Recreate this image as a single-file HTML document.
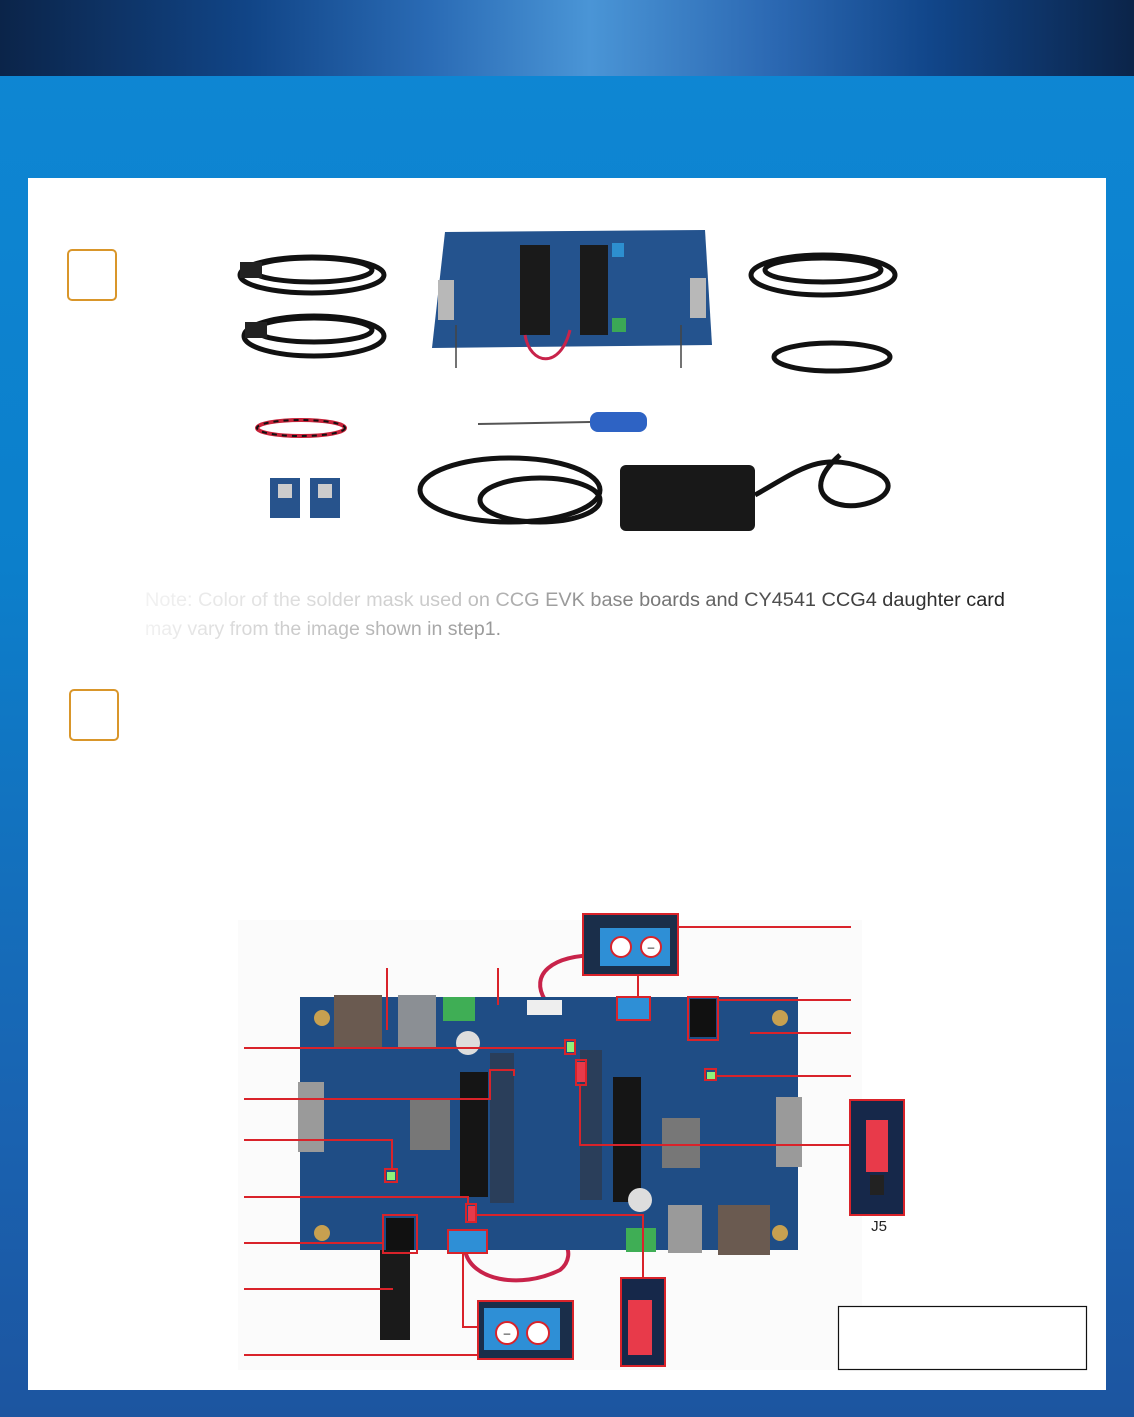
<!DOCTYPE html>
<html><head><meta charset="utf-8"><style>
html,body{margin:0;padding:0}
body{width:1134px;height:1417px;overflow:hidden;position:relative;background:linear-gradient(#0e87d4 0%,#0c7fcb 40%,#1a62b0 80%,#1c55a0 100%);font-family:"Liberation Sans",sans-serif}
#top{position:absolute;left:0;top:0;width:1134px;height:76px;background:linear-gradient(90deg,#0b2449 0%,#114587 22%,#2a6bb5 38%,#4a95d6 52%,#2c69b3 68%,#11468a 82%,#0b2449 100%)}
#panel{position:absolute;left:28px;top:178px;width:1078px;height:1212px;background:#fff}
svg{position:absolute;left:0;top:0}
</style></head><body>
<div id="top"></div>
<div id="panel"></div>
<svg width="1134" height="1417" viewBox="0 0 1134 1417">
<defs>
<linearGradient id="tg" x1="145" x2="1005" y1="0" y2="0" gradientUnits="userSpaceOnUse">
<stop offset="0" stop-color="#f2f2f2"/><stop offset="0.35" stop-color="#c8c8c8"/><stop offset="0.7" stop-color="#555"/><stop offset="1" stop-color="#222"/></linearGradient>
<linearGradient id="tg2" x1="145" x2="1005" y1="0" y2="0" gradientUnits="userSpaceOnUse">
<stop offset="0" stop-color="#f2f2f2"/><stop offset="0.4" stop-color="#999"/><stop offset="1" stop-color="#222"/></linearGradient>
</defs>
<!-- step boxes -->
<rect x="68" y="250" width="48" height="50" rx="4" fill="none" stroke="#d9962a" stroke-width="2"/>
<rect x="70" y="690" width="48" height="50" rx="4" fill="none" stroke="#d9962a" stroke-width="2"/>
<!-- kit items top -->
<g fill="none" stroke="#111" stroke-width="5">
<ellipse cx="312" cy="275" rx="72" ry="18"/><ellipse cx="312" cy="270" rx="60" ry="12"/>
<ellipse cx="314" cy="336" rx="70" ry="20"/><ellipse cx="314" cy="330" rx="58" ry="12"/>
<ellipse cx="823" cy="275" rx="72" ry="20"/><ellipse cx="823" cy="270" rx="58" ry="12"/>
<ellipse cx="832" cy="357" rx="58" ry="14"/>
<ellipse cx="510" cy="490" rx="90" ry="32"/><ellipse cx="540" cy="500" rx="60" ry="22"/>
<path d="M755 495 C800 470 820 450 870 470 C900 480 890 500 860 505 C830 510 800 490 840 455"/>
</g>
<rect x="240" y="262" width="22" height="16" fill="#222"/><rect x="245" y="322" width="22" height="16" fill="#222"/>
<!-- top board -->
<polygon points="445,232 705,230 712,345 432,348" fill="#24538e"/>
<rect x="520" y="245" width="30" height="90" fill="#1a1a1a"/><rect x="580" y="245" width="28" height="90" fill="#1a1a1a"/>
<rect x="438" y="280" width="16" height="40" fill="#b8b8b8"/><rect x="690" y="278" width="16" height="40" fill="#b8b8b8"/>
<rect x="612" y="318" width="14" height="14" fill="#3ba856"/><rect x="612" y="243" width="12" height="14" fill="#2d8fd0"/>
<path d="M525 335 C530 365 560 370 570 330" fill="none" stroke="#c8234a" stroke-width="3"/>
<line x1="456" y1="325" x2="456" y2="368" stroke="#444" stroke-width="1.5"/>
<line x1="681" y1="325" x2="681" y2="368" stroke="#444" stroke-width="1.5"/>
<!-- red/black wire -->
<ellipse cx="301" cy="428" rx="44" ry="8" fill="none" stroke="#c8233a" stroke-width="4"/>
<ellipse cx="301" cy="428" rx="44" ry="8" fill="none" stroke="#111" stroke-width="2" stroke-dasharray="5 5"/>
<!-- screwdriver -->
<line x1="478" y1="424" x2="590" y2="422" stroke="#555" stroke-width="2"/>
<rect x="590" y="412" width="57" height="20" rx="8" fill="#2e63c4"/>
<!-- daughter cards -->
<rect x="270" y="478" width="30" height="40" fill="#27538c"/><rect x="310" y="478" width="30" height="40" fill="#27538c"/>
<rect x="278" y="484" width="14" height="14" fill="#ccc"/><rect x="318" y="484" width="14" height="14" fill="#ccc"/>
<!-- adapter -->
<rect x="620" y="465" width="135" height="66" rx="6" fill="#181818"/>
<!-- note -->
<text x="145" y="606" font-size="19" fill="url(#tg)" textLength="860" lengthAdjust="spacingAndGlyphs">Note: Color of the solder mask used on CCG EVK base boards and CY4541 CCG4 daughter card</text>
<text x="145" y="635" font-size="19" fill="url(#tg2)" textLength="356" lengthAdjust="spacingAndGlyphs">may vary from the image shown in step1.</text>
<!-- bottom photo -->
<rect x="238" y="920" width="624" height="450" fill="#fbfbfb"/>
<path d="M545 1000 C530 975 550 955 600 955" fill="none" stroke="#c8234a" stroke-width="4"/>
<path d="M465 1250 C470 1280 520 1290 560 1270 C570 1262 570 1250 565 1245" fill="none" stroke="#c8234a" stroke-width="4"/>
<rect x="300" y="997" width="498" height="253" fill="#1f4d85"/>
<g fill="#c7a050"><circle cx="322" cy="1018" r="8"/><circle cx="780" cy="1018" r="8"/><circle cx="322" cy="1233" r="8"/><circle cx="780" cy="1233" r="8"/></g>
<rect x="334" y="995" width="48" height="52" fill="#6a5a50"/><rect x="398" y="995" width="38" height="52" fill="#8b8f94"/>
<rect x="443" y="997" width="32" height="24" fill="#3fae55"/>
<rect x="298" y="1082" width="26" height="70" fill="#9a9a9a"/><rect x="776" y="1097" width="26" height="70" fill="#9a9a9a"/>
<rect x="460" y="1072" width="28" height="125" fill="#151515"/><rect x="613" y="1077" width="28" height="125" fill="#151515"/>
<rect x="490" y="1053" width="24" height="150" fill="#2a3e5a"/><rect x="580" y="1050" width="22" height="150" fill="#2a3e5a"/>
<rect x="410" y="1100" width="40" height="50" fill="#777"/><rect x="662" y="1118" width="38" height="50" fill="#777"/>
<rect x="668" y="1205" width="34" height="48" fill="#9a9a9a"/><rect x="718" y="1205" width="52" height="50" fill="#6a5a50"/>
<rect x="527" y="1000" width="35" height="15" fill="#eee"/>
<rect x="626" y="1228" width="30" height="24" fill="#3fae55"/>
<rect x="380" y="1250" width="30" height="90" fill="#1a1a1a"/>
<rect x="386" y="1218" width="28" height="32" fill="#111"/><rect x="690" y="999" width="26" height="38" fill="#111"/>
<circle cx="468" cy="1043" r="12" fill="#ddd"/><circle cx="640" cy="1200" r="12" fill="#ddd"/>
<!-- insets -->
<rect x="583" y="914" width="95" height="61" fill="#1a2e4a"/>
<rect x="600" y="928" width="70" height="38" fill="#2e8fd6"/>
<circle cx="621" cy="947" r="10" fill="#fff" stroke="#d9232a" stroke-width="2"/><circle cx="651" cy="947" r="10" fill="#fff" stroke="#d9232a" stroke-width="2"/>
<text x="651" y="951" font-size="12" text-anchor="middle" fill="#111">–</text>
<rect x="478" y="1301" width="95" height="58" fill="#1a2e4a"/>
<rect x="484" y="1308" width="76" height="42" fill="#2e8fd6"/>
<circle cx="507" cy="1333" r="11" fill="#fff" stroke="#d9232a" stroke-width="2"/><circle cx="538" cy="1333" r="11" fill="#fff" stroke="#d9232a" stroke-width="2"/>
<text x="507" y="1337" font-size="12" text-anchor="middle" fill="#111">–</text>
<rect x="621" y="1278" width="44" height="88" fill="#16284a"/><rect x="628" y="1300" width="24" height="55" fill="#e83a4a"/>
<rect x="850" y="1100" width="54" height="115" fill="#16284a"/><rect x="866" y="1120" width="22" height="52" fill="#e83a4a"/>
<rect x="870" y="1175" width="14" height="20" fill="#222"/>
<rect x="617" y="997" width="33" height="23" fill="#2e8fd6"/><rect x="448" y="1230" width="39" height="23" fill="#2e8fd6"/>
<g fill="#8ef27a"><rect x="567" y="1042" width="7" height="10"/><rect x="707" y="1072" width="8" height="7"/><rect x="387" y="1172" width="8" height="8"/></g>
<rect x="468" y="1206" width="7" height="15" fill="#e83a4a"/><rect x="577" y="1062" width="8" height="20" fill="#e83a4a"/>
<!-- red callouts -->
<g fill="none" stroke="#d9232a" stroke-width="2">
<rect x="583" y="914" width="95" height="61"/><rect x="617" y="997" width="33" height="23"/>
<rect x="688" y="997" width="30" height="43"/><rect x="705" y="1069" width="11" height="11"/>
<rect x="850" y="1100" width="54" height="115"/><rect x="576" y="1060" width="10" height="25"/>
<rect x="565" y="1040" width="10" height="14"/><rect x="385" y="1169" width="12" height="13"/>
<rect x="466" y="1204" width="10" height="18"/><rect x="383" y="1215" width="34" height="38"/>
<rect x="478" y="1301" width="95" height="58"/><rect x="448" y="1230" width="39" height="23"/>
<rect x="621" y="1278" width="44" height="88"/>
<polyline points="678,927 851,927"/><line x1="638" y1="975" x2="638" y2="997"/>
<line x1="718" y1="1000" x2="851" y2="1000"/><line x1="750" y1="1033" x2="851" y2="1033"/>
<line x1="716" y1="1076" x2="851" y2="1076"/>
<polyline points="580,1085 580,1145 851,1145"/>
<line x1="244" y1="1048" x2="565" y2="1048"/>
<polyline points="244,1099 490,1099 490,1070 514,1070 514,1076"/>
<polyline points="244,1140 392,1140 392,1169"/>
<polyline points="244,1197 468,1197 468,1204"/>
<line x1="244" y1="1243" x2="383" y2="1243"/>
<line x1="244" y1="1289" x2="393" y2="1289"/>
<line x1="244" y1="1355" x2="478" y2="1355"/>
<line x1="387" y1="968" x2="387" y2="1030"/><line x1="498" y1="968" x2="498" y2="1005"/>
<polyline points="476,1215 643,1215 643,1278"/>
<polyline points="463,1253 463,1327 478,1327"/>
</g>
<text x="879" y="1231" font-size="15" text-anchor="middle" fill="#222">J5</text>
<rect x="838.5" y="1306.5" width="248" height="63" fill="#fff" stroke="#111" stroke-width="1.2"/>
</svg>
</body></html>
